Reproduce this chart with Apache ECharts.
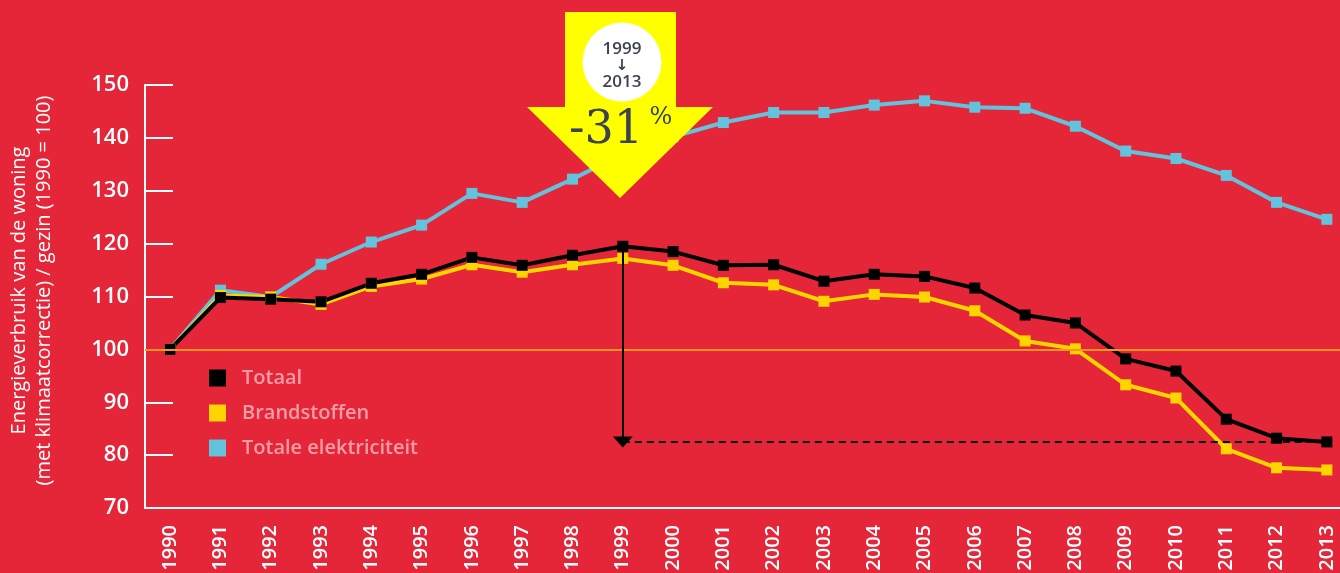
<!DOCTYPE html>
<html>
<head>
<meta charset="utf-8">
<script src="https://cdn.jsdelivr.net/npm/echarts@6/dist/echarts.min.js"></script>
<style>
  html, body { margin: 0; padding: 0; background: #e52538; }
  #chart { width: 1340px; height: 573px; }
</style>
</head>
<body>
<div id="chart"></div>
<script>
// jaren
const years = ['1990','1991','1992','1993','1994','1995','1996','1997','1998','1999','2000','2001',
  '2002','2003','2004','2005','2006','2007','2008','2009','2010','2011','2012','2013']

// index 1990 = 100
const totaal = [100, 109.8, 109.5, 109.0, 112.5, 114.2, 117.4, 115.9, 117.8, 119.5, 118.5, 115.9,
  116.0, 112.9, 114.2, 113.8, 111.6, 106.5, 105.0, 98.2, 95.9, 86.8, 83.2, 82.5]
const brandstoffen = [100, 110.2, 109.9, 108.5, 111.9, 113.3, 116.0, 114.6, 116.0, 117.2, 115.9, 112.6,
  112.2, 109.1, 110.4, 109.9, 107.3, 101.6, 100.1, 93.3, 90.8, 81.2, 77.6, 77.2]
const elektriciteit = [100, 111.2, 109.9, 116.1, 120.3, 123.5, 129.5, 127.8, 132.2, 137.0, 140.2, 142.9,
  144.8, 144.8, 146.2, 147.0, 145.8, 145.6, 142.2, 137.5, 136.1, 132.9, 127.8, 124.6]

const yTicks = { min: 70, max: 150, interval: 10 }
const referenceValue = 100
const fromYear = '1999'
const toYear = '2013'

const chart = echarts.init(document.getElementById('chart'))

const font = '"Open Sans", "Noto Sans", sans-serif'
const textDark = '#3d4251'

const lineSeries = (name, data, color) => ({
  name,
  type: 'line',
  data,
  symbol: 'rect',
  symbolSize: 11,
  lineStyle: { color, width: 4 },
  itemStyle: { color },
  emphasis: { disabled: true },
  animation: false
})

const option = {
  backgroundColor: '#e52538',
  textStyle: { fontFamily: font },
  grid: { left: 145, right: -12, top: 85, bottom: 65, containLabel: false, outerBoundsMode: 'none' },
  legend: {
    data: ['Totaal', 'Brandstoffen', 'Totale elektriciteit'],
    orient: 'vertical',
    left: 209,
    top: 368,
    padding: 0,
    icon: 'rect',
    itemWidth: 17,
    itemHeight: 17,
    itemGap: 15,
    selectedMode: false,
    textStyle: {
      color: 'rgba(255,255,255,0.55)',
      fontSize: 20,
      fontWeight: 600,
      fontFamily: font,
      padding: [0, 0, 0, 11]
    }
  },
  xAxis: {
    type: 'category',
    data: years,
    boundaryGap: true,
    axisLine: { lineStyle: { color: '#ffffff', width: 2 } },
    axisTick: { inside: true, length: 11, lineStyle: { color: '#ffffff', width: 2 } },
    axisLabel: {
      rotate: 90,
      color: '#ffffff',
      fontSize: 20,
      fontWeight: 600,
      fontFamily: font,
      margin: 17,
      hideOverlap: false
    }
  },
  yAxis: {
    type: 'value',
    min: yTicks.min,
    max: yTicks.max,
    interval: yTicks.interval,
    name: 'Energieverbruik van de woning\n(met klimaatcorrectie) / gezin (1990 = 100)',
    nameLocation: 'middle',
    nameRotate: 90,
    nameGap: 88,
    nameTextStyle: {
      color: '#ffffff',
      fontSize: 20,
      fontWeight: 400,
      fontFamily: font,
      lineHeight: 25,
      padding: [0, 0, 0, 12]
    },
    axisLine: { show: true, lineStyle: { color: '#ffffff', width: 2 } },
    axisTick: { show: true, inside: true, length: 28, lineStyle: { color: '#ffffff', width: 2 } },
    splitLine: { show: false },
    axisLabel: {
      color: '#ffffff',
      fontSize: 22,
      fontWeight: 600,
      fontFamily: font,
      margin: 16
    }
  },
  series: [
    {
      ...lineSeries('Totale elektriciteit', elektriciteit, '#63c3dc'),
      markLine: {
        silent: true,
        symbol: 'none',
        label: { show: false },
        lineStyle: { color: '#f7941d', width: 2, type: 'solid' },
        data: [{ yAxis: referenceValue }],
        animation: false
      }
    },
    lineSeries('Brandstoffen', brandstoffen, '#ffd500'),
    {
      ...lineSeries('Totaal', totaal, '#000000'),
      markLine: {
        silent: true,
        label: { show: false },
        symbol: ['none', 'triangle'],
        symbolSize: [20, 11],
        animation: false,
        data: [
          [
            { coord: [fromYear, totaal[years.indexOf(fromYear)]], lineStyle: { color: '#000', width: 2, type: 'solid' } },
            { coord: [fromYear, totaal[years.indexOf(toYear)]] }
          ],
          [
            { coord: [fromYear, totaal[years.indexOf(toYear)]], symbol: 'none', lineStyle: { color: '#000', width: 2, type: [7, 5] } },
            { coord: [toYear, totaal[years.indexOf(toYear)]], symbol: 'none' }
          ]
        ]
      }
    }
  ],
  graphic: [
    {
      type: 'polygon',
      shape: { points: [[565, 12], [676, 12], [676, 107], [713, 107], [620, 198], [527, 107], [565, 107]] },
      style: { fill: '#ffff00' },
      z: 100
    },
    {
      type: 'circle',
      shape: { cx: 622, cy: 62, r: 39.5 },
      style: { fill: '#ffffff' },
      z: 101
    },
    {
      type: 'text',
      x: 622, y: 49,
      style: { text: fromYear, fill: textDark, fontSize: 17, fontWeight: 600, fontFamily: font, align: 'center', verticalAlign: 'middle' },
      z: 102
    },
    {
      type: 'text',
      x: 622, y: 66,
      style: { text: '↓', fill: textDark, fontSize: 15, fontWeight: 600, fontFamily: 'DejaVu Sans', align: 'center', verticalAlign: 'middle' },
      z: 102
    },
    {
      type: 'text',
      x: 622, y: 82,
      style: { text: toYear, fill: textDark, fontSize: 17, fontWeight: 600, fontFamily: font, align: 'center', verticalAlign: 'middle' },
      z: 102
    },
    {
      type: 'text',
      x: 606, y: 131,
      style: { text: '-31', fill: textDark, fontSize: 46, fontFamily: 'DejaVu Serif', align: 'center', verticalAlign: 'middle' },
      z: 102
    },
    {
      type: 'text',
      x: 661, y: 118,
      style: { text: '%', fill: textDark, fontSize: 24, fontFamily: 'DejaVu Serif', align: 'center', verticalAlign: 'middle' },
      z: 102
    }
  ]
}

chart.setOption(option)
</script>
</body>
</html>
